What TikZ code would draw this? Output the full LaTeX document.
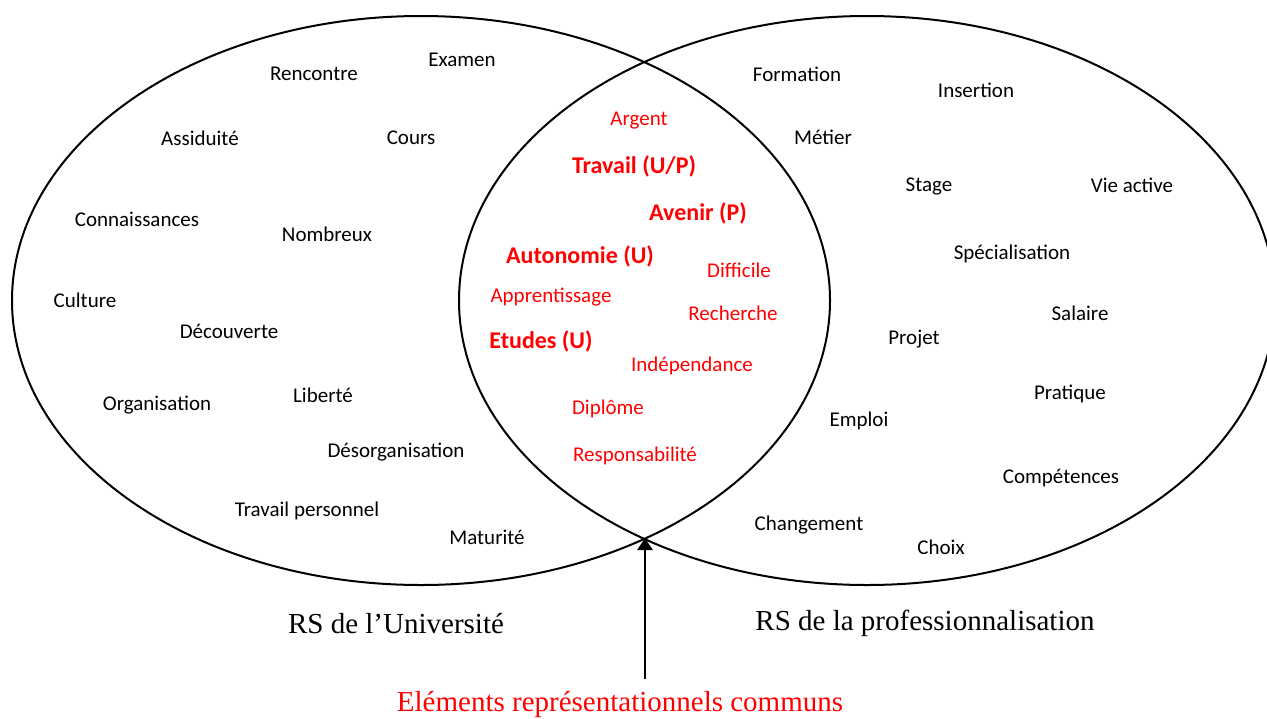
\documentclass[tikz,border=0pt]{standalone}
\usepackage{fontspec}
\setmainfont{Carlito}
\newfontfamily\timesfont{Liberation Serif}
\usetikzlibrary{arrows.meta}

\tikzset{
  mot/.style={text=black, yshift=-1pt, font=\fontsize{10.5}{12}\selectfont},
  motcommun/.style={text=red, yshift=-1pt, font=\fontsize{10.5}{12}\selectfont},
  motfort/.style={text=red, yshift=-1pt, font=\fontsize{12}{14}\selectfont\bfseries},
  legende/.style={yshift=-0.8pt, font=\timesfont\fontsize{14.5}{17}\selectfont},
  fleche/.style={line width=1.3pt, -{Triangle[width=7.5pt,length=6pt]}}
}

\begin{document}
\begin{tikzpicture}[x=0.5pt, y=-0.5pt]
\useasboundingbox (0,0) rectangle (1267,718);
\clip (0,0) rectangle (1267,718);

% Les deux ensembles (Universite a gauche, professionnalisation a droite)
\draw[line width=1pt] (421,300.5) ellipse (409 and 284.5);
\draw[line width=1pt] (867,300.5) ellipse (408 and 284.5);

% RS de l'Universite
\node [mot] (rencontre) at (314,72) {Rencontre};
\node [mot] (examen) at (462,58) {Examen};
\node [mot] (assiduite) at (200,136) {Assiduité};
\node [mot] (cours) at (411,136) {Cours};
\node [mot] (connaissances) at (137,217) {Connaissances};
\node [mot] (nombreux) at (327,232) {Nombreux};
\node [mot] (culture) at (85,298) {Culture};
\node [mot] (decouverte) at (229,329) {Découverte};
\node [mot] (organisation) at (157,403) {Organisation};
\node [mot] (liberte) at (323,393) {Liberté};
\node [mot] (desorganisation) at (396,450) {Désorganisation};
\node [mot] (travperso) at (307,509) {Travail personnel};
\node [mot] (maturite) at (487,535) {Maturité};

% Elements communs (en rouge)
\node [motcommun] (argent) at (639,119) {Argent};
\node [motfort] (travail) at (634,164) {Travail (U/P)};
\node [motfort] (avenir) at (698,211) {Avenir (P)};
\node [motfort] (autonomie) at (580,254) {Autonomie (U)};
\node [motcommun] (difficile) at (739,268) {Difficile};
\node [motcommun] (apprentissage) at (551,295) {Apprentissage};
\node [motcommun] (recherche) at (733,311) {Recherche};
\node [motfort] (etudes) at (541,339) {Etudes (U)};
\node [motcommun] (independance) at (692,364) {Indépendance};
\node [motcommun] (diplome) at (608,407) {Diplôme};
\node [motcommun] (responsabilite) at (635,454) {Responsabilité};

% RS de la professionnalisation
\node [mot] (formation) at (797,72) {Formation};
\node [mot] (insertion) at (976,88) {Insertion};
\node [mot] (metier) at (823,135) {Métier};
\node [mot] (stage) at (929,184) {Stage};
\node [mot] (vieactive) at (1132,183) {Vie active};
\node [mot] (specialisation) at (1012,252) {Spécialisation};
\node [mot] (salaire) at (1080,311) {Salaire};
\node [mot] (projet) at (914,337) {Projet};
\node [mot] (pratique) at (1070,392) {Pratique};
\node [mot] (emploi) at (859,419) {Emploi};
\node [mot] (competences) at (1061,476) {Compétences};
\node [mot] (changement) at (809,523) {Changement};
\node [mot] (choix) at (941,545) {Choix};

% Legendes
\node [legende] (rsuniv) at (396,622) {RS de l’Université};
\node [legende] (rspro) at (925,622) {RS de la professionnalisation};
\node [legende, text=red] (communs) at (620,703) {Eléments représentationnels communs};

% Fleche vers l'intersection
\coordinate (pointe) at (645,538);
\coordinate (queue) at (645,679);
\draw [fleche] (queue) -- (pointe);
\end{tikzpicture}
\end{document}
